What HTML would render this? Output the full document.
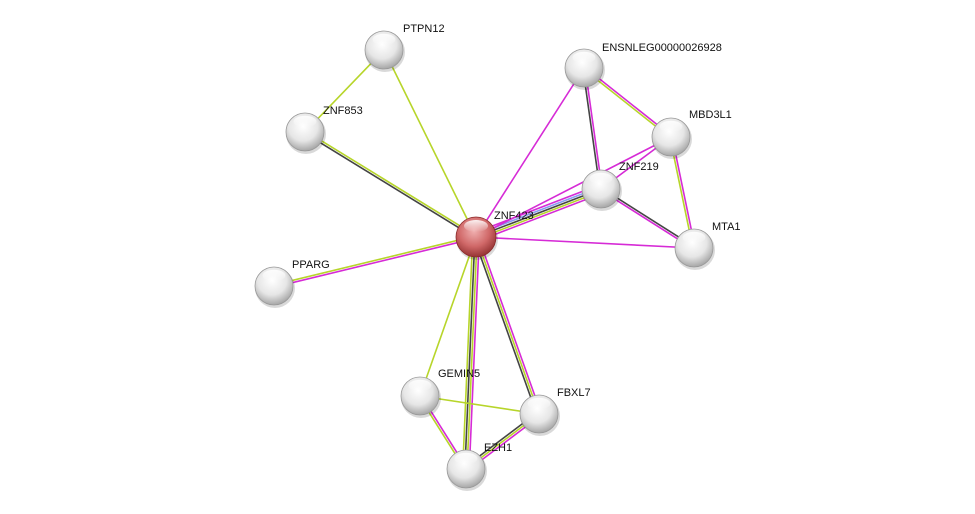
<!DOCTYPE html>
<html><head><meta charset="utf-8">
<style>
html,body{margin:0;padding:0;background:#fff;}
svg{display:block;}
text{font-family:"Liberation Sans",sans-serif;font-size:11px;fill:#111;}
</style></head>
<body>
<svg id="s" width="975" height="514" viewBox="0 0 975 514" xmlns="http://www.w3.org/2000/svg">
<defs>
<radialGradient id="g" cx="0.45" cy="0.35" r="0.7">
<stop offset="0" stop-color="#ffffff"/><stop offset="0.55" stop-color="#e6e6e6"/><stop offset="1" stop-color="#9a9a9a"/>
</radialGradient>
<radialGradient id="r" cx="0.45" cy="0.35" r="0.7">
<stop offset="0" stop-color="#f0b0b0"/><stop offset="0.55" stop-color="#d06868"/><stop offset="1" stop-color="#8a2a2a"/>
</radialGradient>
<linearGradient id="hl" x1="0" y1="0" x2="0" y2="1">
<stop offset="0" stop-color="#fff" stop-opacity="0.9"/><stop offset="1" stop-color="#fff" stop-opacity="0"/>
</linearGradient>
</defs>
<g id="edges"></g>
<g id="nodes"></g>
</svg>
<script>
var N={
ZNF423:[476,237],PTPN12:[384,50],ZNF853:[305,132],ENS:[584,68],MBD3L1:[671,137],
ZNF219:[601,189],MTA1:[694,248],PPARG:[274,286],GEMIN5:[420,396],FBXL7:[539,414],EZH1:[466,469]};
var M="#d62bd6",Y="#b7d52a",K="#444",B="#8a9cf0";
var E=[
["ZNF423","PTPN12",[Y]],["PTPN12","ZNF853",[Y]],["ZNF423","ZNF853",[K,Y]],
["ZNF423","ENS",[M]],["ZNF423","ZNF219",[M,B,K,Y,M]],["ZNF423","MBD3L1",[M]],
["ZNF423","MTA1",[M]],["ZNF423","PPARG",[M,Y]],["ZNF423","GEMIN5",[Y]],
["ZNF423","EZH1",[M,Y,K,Y]],["ZNF423","FBXL7",[M,Y,K]],
["ENS","ZNF219",[M,K]],["ENS","MBD3L1",[M,Y]],["MBD3L1","ZNF219",[M]],
["MBD3L1","MTA1",[M,Y]],["ZNF219","MTA1",[K,M]],["GEMIN5","FBXL7",[Y]],
["GEMIN5","EZH1",[M,Y]],["FBXL7","EZH1",[M,Y,K]]];
var ns="http://www.w3.org/2000/svg",eg=document.getElementById("edges"),ng=document.getElementById("nodes");
E.forEach(function(e){var a=N[e[0]],b=N[e[1]],dx=b[0]-a[0],dy=b[1]-a[1],L=Math.hypot(dx,dy),px=-dy/L,py=dx/L,n=e[2].length;
e[2].forEach(function(c,i){var o=(i-(n-1)/2)*2.2;var l=document.createElementNS(ns,"line");
l.setAttribute("x1",a[0]+px*o);l.setAttribute("y1",a[1]+py*o);l.setAttribute("x2",b[0]+px*o);l.setAttribute("y2",b[1]+py*o);
l.setAttribute("stroke",c);l.setAttribute("stroke-width","1.6");eg.appendChild(l);});});
var labels={ZNF423:[494,219,"ZNF423"],PTPN12:[403,32,"PTPN12"],ZNF853:[323,114,"ZNF853"],ENS:[602,51,"ENSNLEG00000026928"],
MBD3L1:[689,118,"MBD3L1"],ZNF219:[619,170,"ZNF219"],MTA1:[712,230,"MTA1"],PPARG:[292,268,"PPARG"],
GEMIN5:[438,377,"GEMIN5"],FBXL7:[557,396,"FBXL7"],EZH1:[484,451,"EZH1"]};
for(var k in N){var p=N[k],rad=k=="ZNF423"?20:19;
var sh=document.createElementNS(ns,"circle");sh.setAttribute("cx",p[0]+1);sh.setAttribute("cy",p[1]+2);sh.setAttribute("r",rad+1);sh.setAttribute("fill","rgba(0,0,0,0.15)");ng.appendChild(sh);
var c=document.createElementNS(ns,"circle");c.setAttribute("cx",p[0]);c.setAttribute("cy",p[1]);c.setAttribute("r",rad);
c.setAttribute("fill",k=="ZNF423"?"url(#r)":"url(#g)");c.setAttribute("stroke",k=="ZNF423"?"#8a2a2a":"#999");c.setAttribute("stroke-width","0.8");ng.appendChild(c);
var h=document.createElementNS(ns,"ellipse");h.setAttribute("cx",p[0]);h.setAttribute("cy",p[1]-rad*0.55);h.setAttribute("rx",rad*0.6);h.setAttribute("ry",rad*0.3);h.setAttribute("fill","url(#hl)");ng.appendChild(h);
var t=document.createElementNS(ns,"text"),lb=labels[k];t.setAttribute("x",lb[0]);t.setAttribute("y",lb[1]);t.textContent=lb[2];ng.appendChild(t);}
</script>
</body></html>
